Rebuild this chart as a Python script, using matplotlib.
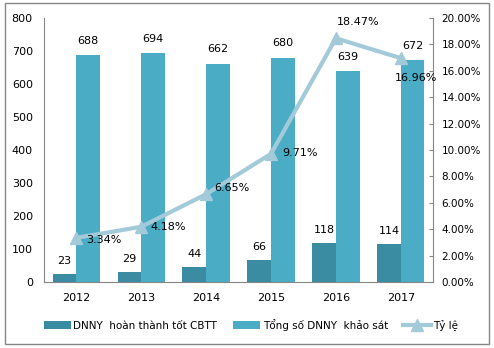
import matplotlib
matplotlib.use('Agg')
import matplotlib.pyplot as plt
from matplotlib.patches import Rectangle
from matplotlib.ticker import FuncFormatter
import numpy as np

# survey data
years = ['2012', '2013', '2014', '2015', '2016', '2017']
dat_chuan = [23, 29, 44, 66, 118, 114]          # DNNY hoàn thành tốt CBTT
tong_so = [688, 694, 662, 680, 639, 672]        # Tổng số DNNY khảo sát
ty_le = [3.34, 4.18, 6.65, 9.71, 18.47, 16.96]  # Tỷ lệ (%)

c_dark = '#3A8CA3'
c_light = '#4BACC6'
c_line = '#A3CAD9'
c_axis = '#868686'

plt.rcParams['font.family'] = ['DejaVu Sans']

fig = plt.figure(figsize=(4.94, 3.48), dpi=100)
ax = fig.add_axes([0.089, 0.19, 0.788, 0.758])
ax2 = ax.twinx()

x = np.arange(len(years))
w = 0.365
b1 = ax.bar(x - w / 2, dat_chuan, w, color=c_dark, label='DNNY  hoàn thành tốt CBTT')
b2 = ax.bar(x + w / 2, tong_so, w, color=c_light, label='Tổng số DNNY  khảo sát')

for xi, v in zip(x, dat_chuan):
    ax.text(xi - w / 2, v + 40, str(v), ha='center', va='center', fontsize=8)
for xi, v in zip(x, tong_so):
    ax.text(xi + w / 2, v + 43, str(v), ha='center', va='center', fontsize=8)

ln, = ax2.plot(x, ty_le, color=c_line, lw=3, marker='^', markersize=8,
               label='Tỷ lệ')

# percentage labels next to the line points
offsets = [(0.42, -0.2), (0.42, 0.0), (0.4, 0.5), (0.45, 0.05), (0.34, 1.25), (0.23, -1.5)]
for xi, v, (dx, dy) in zip(x, ty_le, offsets):
    ax2.text(xi + dx, v + dy, '%.2f%%' % v, ha='center', va='center', fontsize=8)

ax.set_xlim(-0.5, 5.5)
ax.set_ylim(0, 800)
ax.set_yticks(range(0, 801, 100))
ax2.set_ylim(0, 20)
ax2.set_yticks(np.arange(0, 20.1, 2))
ax2.yaxis.set_major_formatter(FuncFormatter(lambda v, p: '%.2f%%' % v))

ax.set_xticks(x)
ax.set_xticklabels(years)
ax.tick_params(axis='x', length=0, labelsize=8, pad=8)
ax.tick_params(axis='y', length=0, labelsize=8, pad=8)
ax2.tick_params(axis='y', direction='in', length=3, color=c_axis, labelsize=7.5, pad=6)

for a in (ax, ax2):
    a.spines['top'].set_visible(False)
    for s in ('left', 'right', 'bottom'):
        a.spines[s].set_color(c_axis)
ax.spines['right'].set_visible(False)
ax2.spines['left'].set_visible(False)
ax2.spines['bottom'].set_visible(False)

fig.legend(handles=[b1, b2, ln], loc='center', bbox_to_anchor=(0.508, 0.066), ncol=3,
           frameon=False, fontsize=7.5, handlelength=2.6, handleheight=0.8,
           columnspacing=1.5, handletextpad=0.25)

# outer border
fig.patches.append(Rectangle((0.01, 0.012), 0.98, 0.978, transform=fig.transFigure,
                             fill=False, edgecolor=c_axis, lw=1))

fig.savefig('out.png', dpi=100)
